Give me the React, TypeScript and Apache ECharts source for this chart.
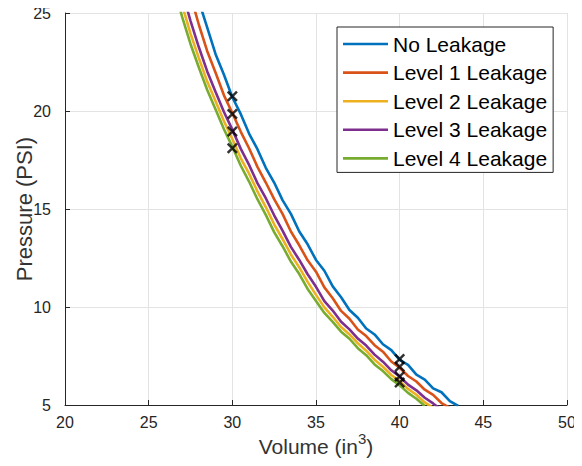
import React, { useEffect, useRef } from "react";
import * as echarts from "echarts";

const seriesNames = ["No Leakage", "Level 1 Leakage", "Level 2 Leakage", "Level 3 Leakage", "Level 4 Leakage"];
const seriesColors = ["#0072BD", "#D95319", "#EDB120", "#7E2F8E", "#77AC30"];

// [volume (in^3), pressure (PSI)]
const noLeakage: [number, number][] = [
  [28.0, 25.6], [28.5, 24.25], [29.0, 22.9], [29.5, 21.85], [30.0, 20.7], [30.5, 19.85], [31.0, 18.85],
  [31.5, 18.05], [32.0, 17.1], [32.5, 16.35], [33.0, 15.45], [33.5, 14.75], [34.0, 13.85], [34.5, 13.2],
  [35.0, 12.4], [35.5, 11.85], [36.0, 11.05], [36.5, 10.5], [37.0, 9.85], [37.5, 9.45], [38.0, 8.9],
  [38.5, 8.6], [39.0, 8.1], [39.5, 7.8], [40.0, 7.3], [40.5, 7.05], [41.0, 6.55], [41.5, 6.3],
  [42.0, 5.85], [42.5, 5.65], [43.0, 5.2], [43.5, 4.95],
];
const level1: [number, number][] = [
  [27.7, 25.3], [28.0, 24.4], [28.5, 23.05], [29.0, 21.95], [29.5, 20.8], [30.0, 19.9], [30.5, 18.95],
  [31.0, 18.1], [31.5, 17.15], [32.0, 16.35], [32.5, 15.5], [33.0, 14.75], [33.5, 13.85], [34.0, 13.15],
  [34.5, 12.38], [35.0, 11.8], [35.5, 11.0], [36.0, 10.45], [36.5, 9.8], [37.0, 9.4], [37.5, 8.85],
  [38.0, 8.52], [38.5, 8.05], [39.0, 7.72], [39.5, 7.22], [40.0, 6.9], [40.5, 6.48], [41.0, 6.2],
  [41.5, 5.78], [42.0, 5.52], [42.5, 5.1], [43.0, 4.85],
];
const level2: [number, number][] = [
  [27.0, 25.4], [27.5, 23.95], [28.0, 22.7], [28.5, 21.5], [29.0, 20.5], [29.5, 19.48], [30.0, 18.57],
  [30.5, 17.6], [31.0, 16.8], [31.5, 15.9], [32.0, 15.1], [32.5, 14.22], [33.0, 13.47], [33.5, 12.68],
  [34.0, 12.02], [34.5, 11.28], [35.0, 10.62], [35.5, 9.98], [36.0, 9.5], [36.5, 8.98], [37.0, 8.6],
  [37.5, 8.15], [38.0, 7.77], [38.5, 7.31], [39.0, 6.95], [39.5, 6.53], [40.0, 6.22], [40.5, 5.82],
  [41.0, 5.52], [41.5, 5.13], [42.0, 4.85],
];
const level3: [number, number][] = [
  [27.2, 25.5], [27.5, 24.6], [28.0, 23.25], [28.5, 22.02], [29.0, 20.97], [29.5, 19.95], [30.0, 19.05],
  [30.5, 18.08], [31.0, 17.25], [31.5, 16.32], [32.0, 15.55], [32.5, 14.68], [33.0, 13.9], [33.5, 13.07],
  [34.0, 12.4], [34.5, 11.67], [35.0, 11.03], [35.5, 10.3], [36.0, 9.82], [36.5, 9.25], [37.0, 8.86],
  [37.5, 8.39], [38.0, 8.03], [38.5, 7.57], [39.0, 7.21], [39.5, 6.77], [40.0, 6.45], [40.5, 6.04],
  [41.0, 5.75], [41.5, 5.37], [42.0, 5.08], [42.5, 4.75],
];
const level4: [number, number][] = [
  [26.8, 25.43], [27.0, 24.8], [27.5, 23.42], [28.0, 22.22], [28.5, 21.07], [29.0, 20.08], [29.5, 19.07],
  [30.0, 18.18], [30.5, 17.22], [31.0, 16.4], [31.5, 15.5], [32.0, 14.7], [32.5, 13.82], [33.0, 13.1],
  [33.5, 12.32], [34.0, 11.68], [34.5, 10.92], [35.0, 10.31], [35.5, 9.7], [36.0, 9.24], [36.5, 8.74],
  [37.0, 8.38], [37.5, 7.9], [38.0, 7.54], [38.5, 7.07], [39.0, 6.73], [39.5, 6.32], [40.0, 6.0],
  [40.5, 5.62], [41.0, 5.32], [41.5, 4.95],
];
const seriesData = [noLeakage, level1, level2, level3, level4];

// black "x" markers
const markerPoints: [number, number][] = [
  [30, 20.75], [30, 19.85], [30, 18.95], [30, 18.1],
  [40, 7.35], [40, 6.95], [40, 6.45], [40, 6.15],
];

const xTicks = { min: 20, max: 50, interval: 5 };
const yTicks = { min: 5, max: 25, interval: 5 };

const FONT = "'Liberation Sans', Arial, sans-serif";
const AXIS_COLOR = "#262626";
const X_PATH =
  "path://M0,1.6 L1.6,0 L5,3.4 L8.4,0 L10,1.6 L6.6,5 L10,8.4 L8.4,10 L5,6.6 L1.6,10 L0,8.4 L3.4,5 Z";

export default function App() {
  const ref = useRef<HTMLDivElement>(null);
  useEffect(() => {
    if (!ref.current) return;
    const chart = echarts.init(ref.current, undefined, { renderer: "svg" });
    const lineSeries = seriesNames.map((name, i) => ({
      name,
      type: "line",
      data: seriesData[i],
      symbol: "none",
      lineStyle: { color: seriesColors[i], width: 2.6 },
      itemStyle: { color: seriesColors[i] },
      z: 2 + i,
    }));
    chart.setOption({
      animation: false,
      backgroundColor: "#ffffff",
      textStyle: { fontFamily: FONT },
      grid: { left: 65, right: 15, top: 13, bottom: 61, containLabel: false, outerBoundsMode: "none" },
      legend: {
        data: seriesNames,
        orient: "vertical",
        left: 337,
        top: 27,
        padding: [5, 6, 2, 6],
        icon: "rect",
        itemWidth: 45,
        itemHeight: 2.6,
        itemGap: 4.6,
        itemTextGap: 4,
        borderColor: AXIS_COLOR,
        borderWidth: 1,
        backgroundColor: "#ffffff",
        textStyle: { fontFamily: FONT, fontSize: 21, color: "#000000", lineHeight: 24 },
      },
      xAxis: {
        type: "value",
        min: xTicks.min,
        max: xTicks.max,
        interval: xTicks.interval,
        name: "{a|Volume (in}{s|3}{a|)}",
        nameLocation: "middle",
        nameMoveOverlap: false,
        nameGap: 26,
        nameTextStyle: {
          rich: {
            a: { fontFamily: FONT, fontSize: 21, color: "#333333", lineHeight: 26, verticalAlign: "bottom" },
            s: { fontFamily: FONT, fontSize: 15, color: "#333333", lineHeight: 26, verticalAlign: "top" },
          },
        },
        axisLine: { show: true, lineStyle: { color: AXIS_COLOR, width: 1 } },
        axisTick: { show: true, inside: true, length: 5, lineStyle: { color: AXIS_COLOR } },
        axisLabel: { fontFamily: FONT, fontSize: 16, color: AXIS_COLOR, margin: 9 },
        splitLine: { show: true, lineStyle: { color: "#e3e3e3", width: 1 } },
      },
      yAxis: {
        type: "value",
        min: yTicks.min,
        max: yTicks.max,
        interval: yTicks.interval,
        name: "Pressure (PSI)",
        nameLocation: "middle",
        nameMoveOverlap: false,
        nameGap: 30,
        nameTextStyle: { fontFamily: FONT, fontSize: 22, color: "#333333" },
        axisLine: { show: true, lineStyle: { color: AXIS_COLOR, width: 1 } },
        axisTick: { show: true, inside: true, length: 5, lineStyle: { color: AXIS_COLOR } },
        axisLabel: { fontFamily: FONT, fontSize: 16, color: AXIS_COLOR, margin: 14 },
        splitLine: { show: true, lineStyle: { color: "#e3e3e3", width: 1 } },
      },
      series: [
        ...lineSeries,
        {
          name: "markers",
          type: "scatter",
          data: markerPoints,
          symbol: X_PATH,
          symbolSize: 11,
          itemStyle: { color: "#000000" },
          z: 10,
        },
      ],
    });
    return () => chart.dispose();
  }, []);
  return <div ref={ref} style={{ width: 582, height: 466, margin: -8 }} />;
}
